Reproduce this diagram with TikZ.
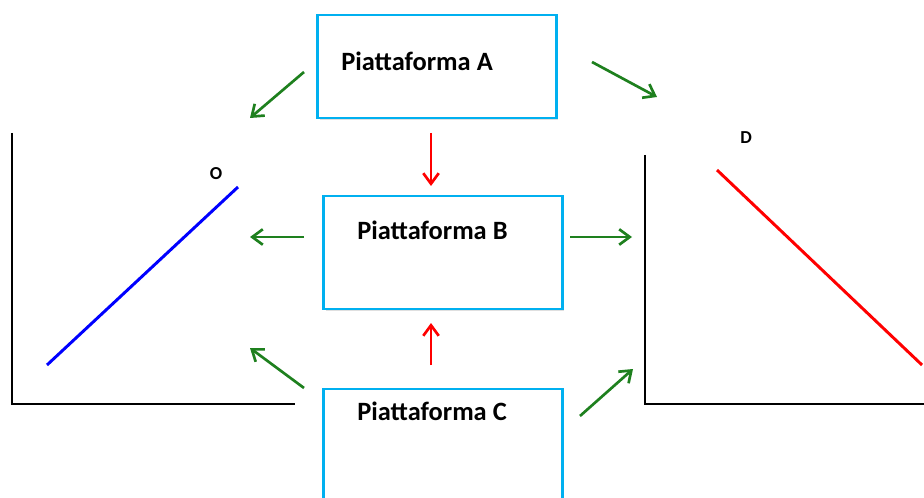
\documentclass[tikz,border=0pt]{standalone}
\usepackage{fontspec}
\setmainfont{Carlito}
\usetikzlibrary{arrows.meta,shadows}
\definecolor{boxblue}{RGB}{0,176,240}
\definecolor{arrgreen}{RGB}{30,128,30}
\definecolor{arrred}{RGB}{255,0,0}
\definecolor{lineblue}{RGB}{0,0,255}

\begin{document}
\begin{tikzpicture}[x=0.025cm,y=-0.025cm,
	platf/.style={draw=boxblue, line width=2.1pt, fill=white, inner sep=0pt,
		drop shadow={shadow xshift=1.2pt, shadow yshift=-1.2pt, opacity=0.25}},
	ptext/.style={anchor=west, inner sep=0pt, font=\fontsize{18.8}{22}\selectfont\bfseries},
	lbl/.style={inner sep=0pt, font=\fontsize{13}{15}\selectfont\bfseries},
	axes/.style={line width=2.1pt, black},
	greenarr/.style={draw=arrgreen, line width=1.9pt, -{Straight Barb[length=7.5pt,width=11pt]}},
	redarr/.style={draw=arrred, line width=1.9pt, -{Straight Barb[length=7.5pt,width=11pt]}}]
	\useasboundingbox (0,0) rectangle (924,498);
	\clip (0,0) rectangle (924,498);

	% platforms
	\node (pa) at (437,66.5)	[platf, minimum width=5.95cm, minimum height=2.575cm]	{};
	\node (pb) at (443,252.5)	[platf, minimum width=5.95cm, minimum height=2.825cm]	{};
	\node (pc) at (443,459.5)	[platf, minimum width=5.95cm, minimum height=3.525cm]	{};
	\node (ta) at (341,61)	[ptext]	{Piattaforma A};
	\node (tb) at (357,230)	[ptext]	{Piattaforma B};
	\node (tc) at (357,411)	[ptext]	{Piattaforma C};

	% the two graphs
	\draw[axes] (12,133) -- (12,404) -- (295,404);
	\draw[lineblue, line width=2.1pt] (47,365) -- (238,187);
	\node (lo) at (216,174)	[lbl]	{O};
	\draw[axes] (645,155) -- (645,404) -- (924,404);
	\draw[arrred, line width=2.1pt] (717,170) -- (922,365);
	\node (ld) at (746,138)	[lbl]	{D};

	% arrows
	\coordinate (ao0) at (304,72);	\coordinate (ao1) at (250,118);
	\coordinate (ad0) at (592,62);	\coordinate (ad1) at (657,97);
	\coordinate (bo0) at (304,237);	\coordinate (bo1) at (250,237);
	\coordinate (bd0) at (570,237);	\coordinate (bd1) at (632,237);
	\coordinate (co0) at (304,388);	\coordinate (co1) at (250,348);
	\coordinate (cd0) at (580,416);	\coordinate (cd1) at (633,369);
	\coordinate (ab0) at (431,133);	\coordinate (ab1) at (431,186);
	\coordinate (cb0) at (431,365);	\coordinate (cb1) at (431,323);
	\draw[greenarr] (ao0) -- (ao1);
	\draw[greenarr] (ad0) -- (ad1);
	\draw[greenarr] (bo0) -- (bo1);
	\draw[greenarr] (bd0) -- (bd1);
	\draw[greenarr] (co0) -- (co1);
	\draw[greenarr] (cd0) -- (cd1);
	\draw[redarr] (ab0) -- (ab1);
	\draw[redarr] (cb0) -- (cb1);
\end{tikzpicture}
\end{document}
